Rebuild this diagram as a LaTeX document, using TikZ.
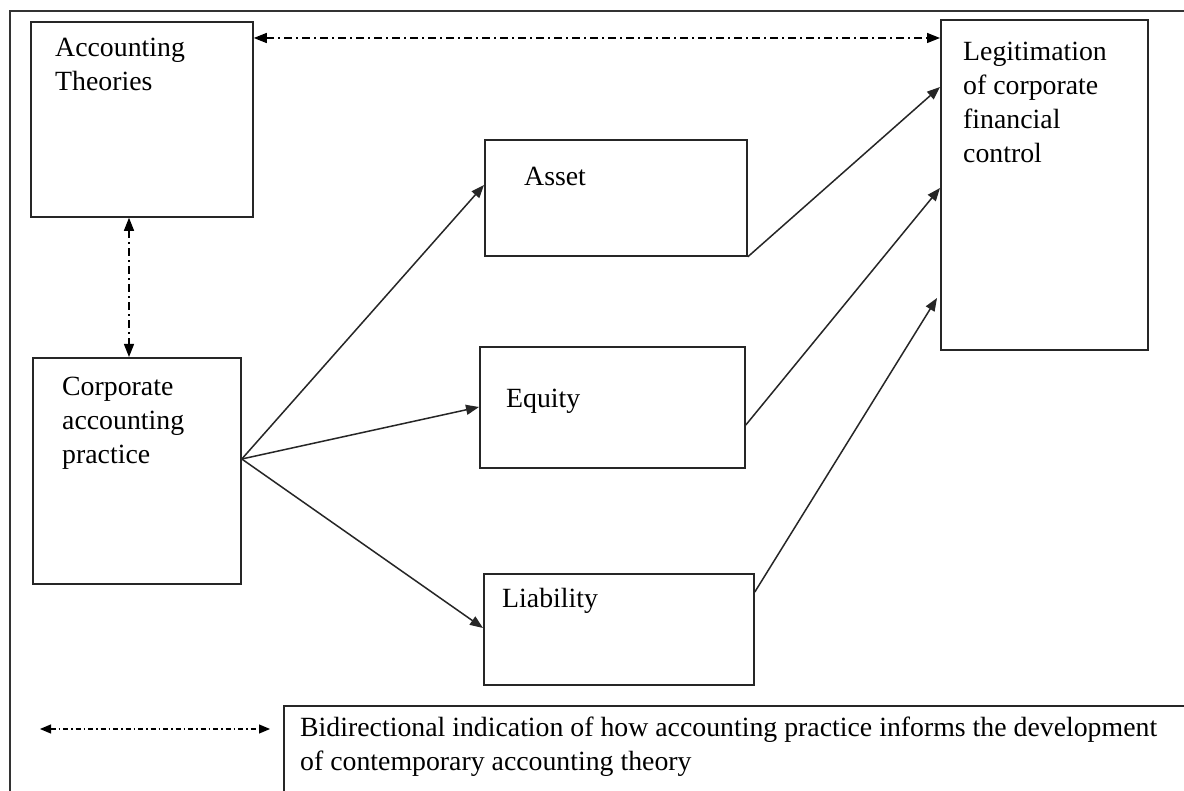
\documentclass[tikz,border=0pt]{standalone}
\usepackage{fontspec}
\setmainfont{Liberation Serif}
\usetikzlibrary{arrows.meta}
\begin{document}
\begin{tikzpicture}[x=1pt,y=-1pt,
  box/.style={draw=black!85, line width=1.8pt, inner sep=0pt, anchor=north west},
  txt/.style={anchor=base west, align=left, inner sep=0pt, font=\fontsize{27.8}{34}\selectfont},
  arr/.style={line width=1.5pt, draw=black!85, -{Triangle[length=13pt,width=10pt]}},
  dd/.style={line width=1.4pt, dash pattern=on 8pt off 4pt on 2pt off 4pt, {Triangle[length=13pt,width=10pt]}-{Triangle[length=13pt,width=10pt]}},
  ddsmall/.style={line width=1.1pt, dash pattern=on 5pt off 3pt on 1.5pt off 3pt, {Triangle[length=11pt,width=9pt]}-{Triangle[length=11pt,width=9pt]}}]
\clip (0,0) rectangle (1184,791);
\fill[white] (0,0) rectangle (1184,791);
% outer frame
\draw[draw=black!80, line width=2.2pt] (10,11) rectangle (1220,830);
% boxes
\node[box, minimum width=222pt, minimum height=195pt] (theo) at (30,21) {};
\node[box, minimum width=208pt, minimum height=226pt] (corp) at (32,357) {};
\node[box, minimum width=262pt, minimum height=116pt] (asset) at (484,139) {};
\node[box, minimum width=265pt, minimum height=121pt] (equity) at (479,346) {};
\node[box, minimum width=270pt, minimum height=111pt] (liab) at (483,573) {};
\node[box, minimum width=207pt, minimum height=330pt] (legit) at (940,19) {};
\node[box, minimum width=960pt, minimum height=120pt] (legend) at (283,705) {};
% texts (base = baseline of the last line)
\node[txt] (ttheo) at (55,91) {Accounting\\Theories};
\node[txt] (tcorp) at (62,464) {Corporate\\accounting\\practice};
\node[txt] (tasset) at (524,186) {Asset};
\node[txt] (tequity) at (506,408) {Equity};
\node[txt] (tliab) at (502,607) {Liability};
\node[txt] (tlegit) at (963,163) {Legitimation\\of corporate\\financial\\control};
\node[txt] (tlegend) at (300,770) {Bidirectional indication of how accounting practice informs the development\\of contemporary accounting theory};
% bidirectional connectors
\draw[dd] (theo.east |- 0,38) -- (legit.west |- 0,38);
\draw[dd] (theo.south -| 129,0) -- (corp.north -| 129,0);
% practice to elements
\coordinate (cp) at (corp.east |- 0,459);
\draw[arr] (cp) -- (asset.west |- 0,185);
\draw[arr] (cp) -- (equity.west |- 0,407);
\draw[arr] (cp) -- (liab.west |- 0,628);
% elements to legitimation
\draw[arr] (asset.south east) -- (legit.west |- 0,87);
\draw[arr] (equity.east |- 0,425) -- (legit.west |- 0,188);
\draw[arr] (liab.east |- 0,592) -- (937,298);
% legend arrow
\coordinate (la) at (40,729);
\coordinate (lb) at (270,729);
\draw[ddsmall] (la) -- (lb);
\end{tikzpicture}
\end{document}
